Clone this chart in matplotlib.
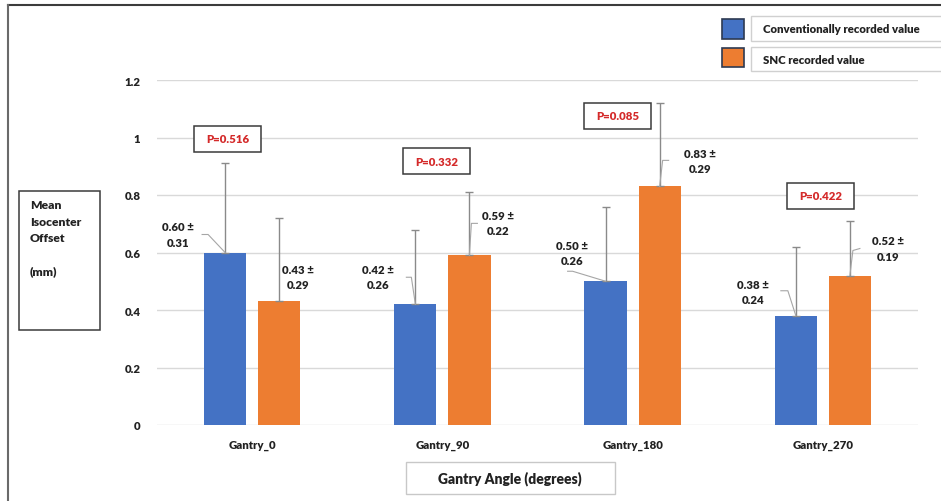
import matplotlib
matplotlib.use("Agg")
import matplotlib.pyplot as plt
from matplotlib import font_manager
from matplotlib.patches import Rectangle
from matplotlib.lines import Line2D
from matplotlib.transforms import IdentityTransform


def pick_bold_family(candidates):
    for fam in candidates:
        try:
            path = font_manager.findfont(
                font_manager.FontProperties(family=fam, weight='bold'),
                fallback_to_default=False)
        except Exception:
            continue
        if 'bold' in path.lower():
            return fam
    return 'DejaVu Sans'


FAMILY = pick_bold_family(['Lato', 'Open Sans', 'Noto Sans', 'Roboto', 'Liberation Sans'])
plt.rcParams['font.family'] = [FAMILY, 'DejaVu Sans']
WEIGHT = 'heavy'
plt.rcParams['font.weight'] = WEIGHT

# ---- data ----
categories = ["Gantry_0", "Gantry_90", "Gantry_180", "Gantry_270"]
conventional_mean = [0.60, 0.42, 0.50, 0.38]
conventional_sd = [0.31, 0.26, 0.26, 0.24]
snc_mean = [0.43, 0.59, 0.83, 0.52]
snc_sd = [0.29, 0.22, 0.29, 0.19]
p_values = ["0.516", "0.332", "0.085", "0.422"]
y_ticks = [0, 0.2, 0.4, 0.6, 0.8, 1.0, 1.2]
y_tick_labels = ["0", "0.2", "0.4", "0.6", "0.8", "1", "1.2"]

BLUE = "#4472C4"
ORANGE = "#ED7D31"
GRID = "#d9d9d9"
ERR = "#8a8a8a"
RED = "#d42a2a"
TXT = "#222222"
FS = 8.2

W, H = 941, 502
fig = plt.figure(figsize=(W / 100, H / 100), dpi=100)


def fx(px):
    return px / W


def fy(py):
    return 1 - py / H


# plot area
ax = fig.add_axes([fx(157), fy(426), fx(918) - fx(157), fy(81) - fy(426)])
ax.set_xlim(-0.5, len(categories) - 0.5)
ax.set_ylim(0, 1.2)
for s in ax.spines.values():
    s.set_visible(False)
ax.set_yticks(y_ticks)
ax.set_yticklabels(y_tick_labels, fontsize=FS, fontweight=WEIGHT, color=TXT)
ax.set_xticks(range(len(categories)))
ax.set_xticklabels(categories, fontsize=FS, fontweight=WEIGHT, color=TXT)
ax.tick_params(axis='both', length=0)
ax.tick_params(axis='y', pad=12)
ax.tick_params(axis='x', pad=10)
ax.yaxis.grid(True, color=GRID, lw=1)
ax.set_axisbelow(True)

bw = 0.222
off = 0.142
x = list(range(len(categories)))
xb = [i - off for i in x]
xo = [i + off for i in x]
ax.bar(xb, conventional_mean, width=bw, color=BLUE, zorder=2)
ax.bar(xo, snc_mean, width=bw, color=ORANGE, zorder=2)
ax.errorbar(xb, conventional_mean, yerr=[[0] * 4, conventional_sd], fmt='none',
            ecolor=ERR, elinewidth=1, capsize=3, capthick=1, zorder=3)
ax.errorbar(xo, snc_mean, yerr=[[0] * 4, snc_sd], fmt='none',
            ecolor=ERR, elinewidth=1, capsize=3, capthick=1, zorder=3)

fig.canvas.draw()

# value labels: text offset and leader elbows, in pixels from each bar top
label_layout_conv = [
    ((-47, 18), [(-17, 18), (-23, 18)]),
    ((-37, 27), [(-4, 27), (-9, 27)]),
    ((-34, 28), [(-33, 10), (-38, 10)]),
    ((-43, 24), [(-8, 25), (-15, 25)]),
]
label_layout_snc = [
    ((19, 24), []),
    ((29, 32), [(2, 32), (8, 32)]),
    ((40, 25), [(3, 26), (9, 26)]),
    ((38, 27), [(3, 25), (10, 27)]),
]

ident = IdentityTransform()


def value_label(xc, mean, sd, layout):
    bx, by = ax.transData.transform((xc, mean))
    (tdx, tdy), elbows = layout
    if elbows:
        xs = [bx] + [bx + ex for ex, ey in elbows]
        ys = [by] + [by + ey for ex, ey in elbows]
        fig.add_artist(Line2D(xs, ys, transform=ident, color="#a6a6a6", lw=0.8))
    fig.text(bx + tdx, by + tdy, f"{mean:.2f} \u00b1\n{sd:.2f}", transform=ident,
             ha='center', va='center', fontsize=FS, fontweight=WEIGHT, color=TXT,
             linespacing=1.45)


for i in x:
    value_label(xb[i], conventional_mean[i], conventional_sd[i], label_layout_conv[i])
    value_label(xo[i], snc_mean[i], snc_sd[i], label_layout_snc[i])

# p-value boxes (category offset, height in data units)
p_box_layout = [(-0.13, 0.995), (-0.03, 0.918), (-0.08, 1.075), (-0.01, 0.797)]
for i, (dx, yy) in enumerate(p_box_layout):
    cx, cy = ax.transData.transform((i + dx, yy))
    fig.add_artist(Rectangle((cx - 33.5, cy - 13), 67, 26, transform=ident,
                             facecolor='white', edgecolor='#3a3a3a', lw=1.1, zorder=5))
    fig.text(cx, cy, f"P={p_values[i]}", transform=ident, ha='center', va='center',
             fontsize=FS, fontweight=WEIGHT, color=RED, zorder=6)


def box(x0, y0, x1, y1, ec, lw=1.0, fc='white'):
    fig.add_artist(Rectangle((fx(x0), fy(y1)), fx(x1) - fx(x0), fy(y0) - fy(y1),
                             transform=fig.transFigure, facecolor=fc, edgecolor=ec,
                             lw=lw, clip_on=False))


# legend
box(722, 20, 744, 40, '#2d3a52', 1.2, BLUE)
box(751, 17, 945, 42, '#d0d0d0', 1.0)
fig.text(fx(763), fy(30), "Conventionally recorded value", ha='left', va='center',
         fontsize=FS, fontweight=WEIGHT, color=TXT)
box(722, 49, 744, 68, '#2d3a52', 1.2, ORANGE)
box(751, 48, 945, 72, '#d0d0d0', 1.0)
fig.text(fx(763), fy(61), "SNC recorded value", ha='left', va='center',
         fontsize=FS, fontweight=WEIGHT, color=TXT)

# y-axis title box
box(19, 192, 100, 331, '#3a3a3a', 1.1)
fig.text(fx(30), fy(200), "Mean\nIsocenter\nOffset\n\n(mm)", ha='left', va='top',
         fontsize=FS + 0.5, fontweight=WEIGHT, color=TXT, linespacing=1.62)
# x-axis title box
box(406, 463, 615, 495, '#c8c8c8', 1.0)
fig.text(fx(510), fy(479), "Gantry Angle (degrees)", ha='center', va='center',
         fontsize=10, fontweight=WEIGHT, color=TXT)

# frame edges
fig.add_artist(Line2D([fx(8), 1], [fy(6), fy(6)], transform=fig.transFigure,
                      color='#3c3c3c', lw=1.5))
fig.add_artist(Line2D([fx(8), fx(8)], [fy(6), 0], transform=fig.transFigure,
                      color='#6a6a6a', lw=1.5))

fig.savefig("out.png", dpi=100)
